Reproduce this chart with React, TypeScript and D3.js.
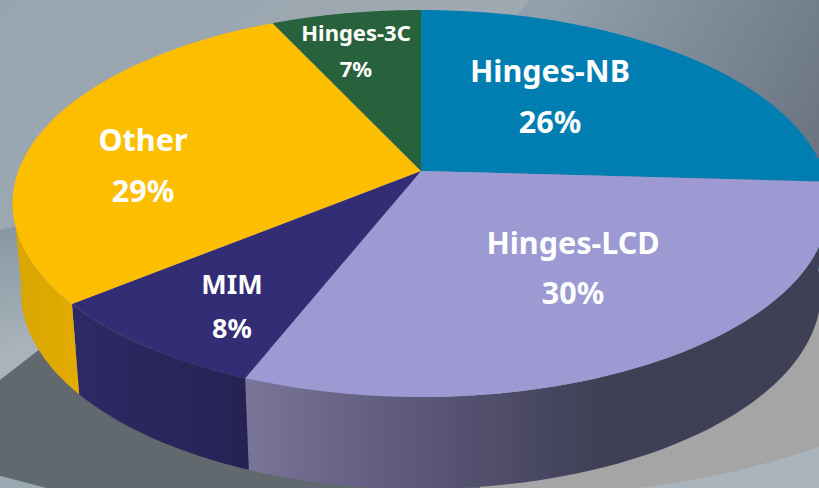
import React from "react";
import * as d3 from "d3";

const categories = ["Hinges-NB", "Hinges-LCD", "MIM", "Other", "Hinges-3C"];
const shares = [26, 30, 8, 29, 7];
const topColors = ["#007DB1", "#9C99D3", "#322D74", "#FDBE00", "#28623C"];
const wallFills = ["#005f88", "url(#wallLcd)", "url(#wallMim)", "url(#wallOther)", "#1e4a2e"];

// Layout, separate from the data
const W = 819, H = 488;
const hub = { x: 421, y: 171 };
const topRim = { cx: 421, cy: 203.5, rx: 408.5, ry: 193.5 };
const baseRim = { cx: 421, cy: 292, rx: 400, ry: 197 };
// The pie is seen in perspective: rim angle (deg, clockwise from top) at each cumulative share
const cumulativeDomain = [0, 26, 56, 64, 93, 100];
const rimAngleRange = [0, 83.5, 205.5, 238.7, 338.7, 360];
const labelLayout = [
  { x: 550, y1: 82, y2: 133, size: 30.5 },
  { x: 573, y1: 254, y2: 304, size: 30.5 },
  { x: 232, y1: 294, y2: 338, size: 27 },
  { x: 143, y1: 151, y2: 202, size: 30.5 },
  { x: 356, y1: 41, y2: 77, size: 22 },
];

const rimAngle = d3.scaleLinear().domain(cumulativeDomain).range(rimAngleRange);
type Rim = typeof topRim;
const at = (r: Rim, deg: number): [number, number] => {
  const a = (deg * Math.PI) / 180;
  return [r.cx + r.rx * Math.sin(a), r.cy - r.ry * Math.cos(a)];
};
const sweep = (a0: number, a1: number) => d3.range(0, 61).map((i) => a0 + ((a1 - a0) * i) / 60);
const line = d3.line();

const cum = d3.cumsum(shares);
const slices = categories.map((name, i) => ({
  name,
  share: shares[i],
  a0: rimAngle(i === 0 ? 0 : cum[i - 1]),
  a1: rimAngle(cum[i]),
  color: topColors[i],
  wall: wallFills[i],
  label: labelLayout[i],
}));

const topPath = (s: (typeof slices)[number]) =>
  line([[hub.x, hub.y], ...sweep(s.a0, s.a1).map((a) => at(topRim, a))])! + "Z";

const wallPath = (s: (typeof slices)[number]) => {
  const a0 = Math.max(s.a0, 80), a1 = Math.min(s.a1, 272);
  if (a1 <= a0) return null;
  const as = sweep(a0, a1);
  return line([...as.map((a) => at(topRim, a)), ...as.slice().reverse().map((a) => at(baseRim, a))])! + "Z";
};

export default function App() {
  return (
    <svg width={W} height={H} viewBox={`0 0 ${W} ${H}`} style={{ position: "fixed", left: 0, top: 0, display: "block" }}>
      <defs>
        <linearGradient id="bgLeft" x1="0" y1="0" x2="0.6" y2="0.5">
          <stop offset="0" stopColor="#98a5af" />
          <stop offset="1" stopColor="#a3acb3" />
        </linearGradient>
        <linearGradient id="bgRight" gradientUnits="userSpaceOnUse" x1="560" y1="0" x2="819" y2="140">
          <stop offset="0" stopColor="#909fab" />
          <stop offset="1" stopColor="#6b7582" />
        </linearGradient>
        <linearGradient id="bgBand" gradientUnits="userSpaceOnUse" x1="0" y1="230" x2="40" y2="340">
          <stop offset="0" stopColor="#8a97a2" />
          <stop offset="1" stopColor="#a8b3ba" />
        </linearGradient>
        <linearGradient id="wallLcd" gradientUnits="userSpaceOnUse" x1="246" y1="0" x2="600" y2="0">
          <stop offset="0" stopColor="#7b7599" />
          <stop offset="0.45" stopColor="#5e5a7c" />
          <stop offset="1" stopColor="#3f3f56" />
        </linearGradient>
        <linearGradient id="wallMim" gradientUnits="userSpaceOnUse" x1="75" y1="0" x2="250" y2="0">
          <stop offset="0" stopColor="#2d2966" />
          <stop offset="1" stopColor="#242353" />
        </linearGradient>
        <linearGradient id="wallOther" gradientUnits="userSpaceOnUse" x1="14" y1="0" x2="80" y2="0">
          <stop offset="0" stopColor="#d8a500" />
          <stop offset="1" stopColor="#e3ac00" />
        </linearGradient>
      </defs>

      <rect width={W} height={H} fill="url(#bgLeft)" />
      <path d="M530,0L300,260L819,260L819,0Z" fill="url(#bgRight)" />
      <path d="M0,230L60,215L60,360L0,380Z" fill="url(#bgBand)" />
      <path d="M0,380L40,349L400,349L500,488L46,488L0,476Z" fill="#61686e" />
      <path d="M0,476L46,488L0,488Z" fill="#9aa8b2" />
      <path d="M480,300L819,300L819,447Q740,475 640,488L480,488Z" fill="#a5a5a5" />
      <path d="M819,447Q740,475 640,488L819,488Z" fill="#aab4bc" />

      {slices.map((s) => {
        const d = wallPath(s);
        return d ? <path key={s.name} d={d} fill={s.wall} /> : null;
      })}
      {slices.map((s) => (
        <path key={s.name} d={topPath(s)} fill={s.color} />
      ))}
      {slices.map((s) => (
        <g key={s.name} fill="#fff" fontFamily="'Noto Sans', 'Open Sans', sans-serif" fontWeight={700} fontSize={s.label.size} textAnchor="middle">
          <text x={s.label.x} y={s.label.y1}>{s.name}</text>
          <text x={s.label.x} y={s.label.y2}>{s.share}%</text>
        </g>
      ))}
    </svg>
  );
}
